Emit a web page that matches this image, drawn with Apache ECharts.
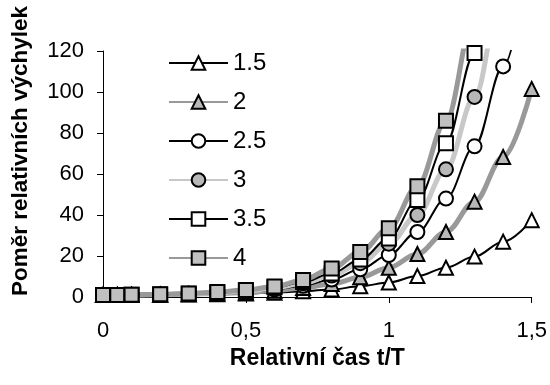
<!DOCTYPE html>
<html>
<head>
<meta charset="utf-8">
<script src="https://cdn.jsdelivr.net/npm/echarts@6/dist/echarts.min.js"></script>
<style>
html,body{margin:0;padding:0;background:#fff;}
#chart{width:550px;height:385px;}
</style>
</head>
<body>
<div id="chart"></div>
<script>
// Relative time t/T
const tValues = [0, 0.05, 0.1, 0.2, 0.3, 0.4, 0.5, 0.6, 0.7, 0.8, 0.9, 1.0, 1.1, 1.2, 1.3, 1.4, 1.5];
const seriesNames = ['1.5', '2', '2.5', '3', '3.5', '4'];
const s15 = [1, 1, 1.02, 1.08, 1.2, 1.4, 1.7, 2.1, 2.8, 3.7, 5.2, 7.1, 10.2, 14.3, 19.7, 27, 37.5];
const s20 = [1, 1.01, 1.03, 1.12, 1.35, 1.7, 2.2, 3.1, 4.4, 6.4, 9.6, 14.3, 21, 31.7, 46.5, 68.3, 101.5];
const s25 = [1, 1.01, 1.03, 1.15, 1.45, 1.9, 2.6, 3.7, 5.5, 8.5, 13.5, 20.5, 31.7, 48, 73.5, 112.5, 172];
const s30 = [1, 1.01, 1.05, 1.25, 1.6, 2.1, 3, 4.4, 6.7, 10.5, 16.5, 26, 40, 62.3, 97.6, 153, 240];
const s35 = [1, 1.01, 1.05, 1.25, 1.6, 2.2, 3.1, 4.7, 7.3, 11.5, 18.3, 28.5, 47.3, 75, 119, 188, 295];
const s40 = [1, 1.01, 1.06, 1.3, 1.7, 2.4, 3.4, 5.1, 8.3, 13.9, 22, 33.5, 54, 86, 138, 220, 350];
const yTicks = [0, 20, 40, 60, 80, 100, 120];
const xTicks = [0, 0.5, 1, 1.5];

const allValues = [s15, s20, s25, s30, s35, s40];
const styles = [
  {symbol: 'triangle', fill: '#ffffff', line: '#000000', width: 2},
  {symbol: 'triangle', fill: '#b8b8b8', line: '#999999', width: 5},
  {symbol: 'circle',   fill: '#ffffff', line: '#000000', width: 2},
  {symbol: 'circle',   fill: '#b8b8b8', line: '#c8c8c8', width: 5},
  {symbol: 'rect',     fill: '#ffffff', line: '#000000', width: 2},
  {symbol: 'rect',     fill: '#c0c0c0', line: '#999999', width: 5}
];

const FONT = 'Liberation Sans, Arial, sans-serif';
const chart = echarts.init(document.getElementById('chart'), null, {renderer: 'canvas'});
chart.setOption({
  animation: false,
  backgroundColor: '#ffffff',
  grid: {left: 103, right: 18, top: 51, bottom: 88, containLabel: false},
  legend: {
    orient: 'vertical',
    left: 168, top: 51, padding: 0,
    itemWidth: 59, itemHeight: 17, itemGap: 15,
    textStyle: {fontFamily: FONT, fontSize: 24, color: '#000'},
    data: seriesNames
  },
  xAxis: {
    type: 'value', min: 0, max: 1.5, interval: 0.5,
    name: 'Relativní čas t/T', nameLocation: 'middle', nameGap: 46,
    nameTextStyle: {fontFamily: FONT, fontSize: 23, fontWeight: 'bold', color: '#000'},
    axisLine: {show: true, lineStyle: {color: '#000', width: 1}},
    axisTick: {show: true, length: 6, lineStyle: {color: '#000'}},
    splitLine: {show: false},
    axisLabel: {fontFamily: FONT, fontSize: 22, color: '#000', margin: 23,
      formatter: v => String(v).replace('.', ',')}
  },
  yAxis: {
    type: 'value', min: 0, max: 120, interval: 20,
    name: 'Poměr relativních výchylek', nameLocation: 'middle', nameGap: 71,
    nameTextStyle: {fontFamily: FONT, fontSize: 22.5, fontWeight: 'bold', color: '#000', padding: [0, 0, 0, 46]},
    axisLine: {show: true, lineStyle: {color: '#000', width: 1}},
    axisTick: {show: true, length: 6, lineStyle: {color: '#000'}},
    splitLine: {show: false},
    axisLabel: {fontFamily: FONT, fontSize: 22, color: '#000', margin: 19}
  },
  series: seriesNames.map((name, i) => ({
    name: name,
    type: 'line',
    smooth: 0.35,
    smoothMonotone: 'x',
    clip: true,
    symbol: styles[i].symbol,
    symbolSize: 14,
    showAllSymbol: true,
    lineStyle: {color: styles[i].line, width: styles[i].width},
    itemStyle: {color: styles[i].fill, borderColor: '#000', borderWidth: 2},
    data: tValues.map((t, j) => [t, allValues[i][j]])
  }))
});
</script>
</body>
</html>
